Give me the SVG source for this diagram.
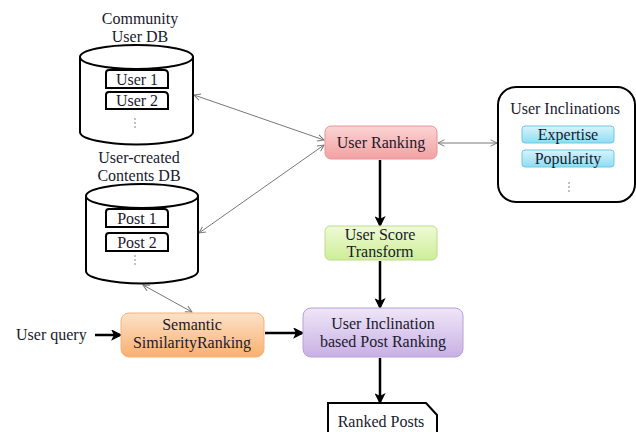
<svg xmlns="http://www.w3.org/2000/svg" width="636" height="432" viewBox="0 0 636 432">
<style>
text{font-family:"Liberation Serif","Times New Roman",serif;fill:#1a1a2e;}
.t{font-size:16px;text-anchor:middle;}
.s{font-size:16px;text-anchor:middle;}
.db{fill:#fff;stroke:#000;stroke-width:2;}
.item{fill:#fff;stroke:#000;stroke-width:2;}
.thin{stroke:#777;stroke-width:1;fill:none;marker-start:url(#ao);marker-end:url(#a);}
.thick{stroke:#000;stroke-width:2.5;fill:none;marker-end:url(#ab);}
.dots{fill:#555;}
</style>
<defs>
<marker id="a" viewBox="0 0 10 10" refX="9" refY="5" markerWidth="8" markerHeight="8" orient="auto" markerUnits="userSpaceOnUse"><path d="M1,1 L9,5 L1,9" fill="none" stroke="#777" stroke-width="1.2"/></marker>
<marker id="ao" viewBox="0 0 10 10" refX="1" refY="5" markerWidth="8" markerHeight="8" orient="auto" markerUnits="userSpaceOnUse"><path d="M9,1 L1,5 L9,9" fill="none" stroke="#777" stroke-width="1.2"/></marker>
<marker id="ab" viewBox="0 0 10 10" refX="8" refY="5" markerWidth="11" markerHeight="11" orient="auto" markerUnits="userSpaceOnUse"><path d="M1,1 L9,5 L1,9 L3,5 Z" fill="#000" stroke="#000" stroke-width="1"/></marker>
<linearGradient id="gRed" x1="0" y1="0" x2="0" y2="1"><stop offset="0" stop-color="#fbd3d3"/><stop offset="1" stop-color="#f3a1a1"/></linearGradient>
<linearGradient id="gGreen" x1="0" y1="0" x2="0" y2="1"><stop offset="0" stop-color="#effad6"/><stop offset="1" stop-color="#cdee96"/></linearGradient>
<linearGradient id="gOrange" x1="0" y1="0" x2="0" y2="1"><stop offset="0" stop-color="#fde2c8"/><stop offset="1" stop-color="#f8b070"/></linearGradient>
<linearGradient id="gPurple" x1="0" y1="0" x2="0" y2="1"><stop offset="0" stop-color="#efe6f8"/><stop offset="1" stop-color="#c8b0e4"/></linearGradient>
<linearGradient id="gBlue" x1="0" y1="0" x2="0" y2="1"><stop offset="0" stop-color="#d8f4fc"/><stop offset="1" stop-color="#8edcf3"/></linearGradient>
</defs>

<g id="connectors">
<line class="thin" x1="194" y1="95" x2="324" y2="140"/>
<line class="thin" x1="199" y1="233" x2="324" y2="145"/>
<line class="thin" x1="438" y1="143" x2="497" y2="143"/>
<line class="thin" x1="143" y1="285" x2="192" y2="312"/>
<line class="thick" x1="380" y1="160" x2="380" y2="225"/>
<line class="thick" x1="380" y1="261" x2="380" y2="307"/>
<line class="thick" x1="380" y1="358" x2="380" y2="402"/>
<line class="thick" x1="95" y1="335" x2="120" y2="335"/>
<line class="thick" x1="265" y1="333" x2="302" y2="333"/>
</g>

<g id="community-user-db">
<text class="t" x="140" y="24">Community</text>
<text class="t" x="140" y="42">User DB</text>
<path class="db" d="M80,57 L80,132 A56.5,12.5 0 0 0 193,132 L193,57"/>
<ellipse class="db" cx="136.5" cy="57" rx="56.5" ry="12"/>
<path class="item" d="M106,88 L106,73 Q106,70 109,70 L164,70 Q168,70 168,74 L168,88 Z"/>
<text class="t" x="137" y="85">User 1</text>
<path class="item" d="M106,109 L106,95 Q106,92 109,92 L164,92 Q168,92 168,96 L168,109 Z"/>
<text class="t" x="137" y="106">User 2</text>
<circle class="dots" cx="135" cy="119" r="0.7"/><circle class="dots" cx="135" cy="123" r="0.7"/><circle class="dots" cx="135" cy="127" r="0.7"/>
</g>

<g id="contents-db">
<text class="t" x="139" y="163">User-created</text>
<text class="t" x="139" y="181">Contents DB</text>
<path class="db" d="M86,196 L86,271 A56,12.5 0 0 0 198,271 L198,196"/>
<ellipse class="db" cx="142" cy="196" rx="56" ry="12"/>
<path class="item" d="M106,227 L106,212 Q106,209 109,209 L164,209 Q168,209 168,213 L168,227 Z"/>
<text class="t" x="137" y="224">Post 1</text>
<path class="item" d="M106,251 L106,236 Q106,233 109,233 L164,233 Q168,233 168,237 L168,251 Z"/>
<text class="t" x="137" y="248">Post 2</text>
<circle class="dots" cx="135" cy="256" r="0.7"/><circle class="dots" cx="135" cy="260" r="0.7"/><circle class="dots" cx="135" cy="264" r="0.7"/>
</g>

<g id="user-ranking">
<rect x="325" y="126" width="112" height="33" rx="6" fill="url(#gRed)" stroke="#e89494" stroke-width="1"/>
<text class="t" x="381" y="148">User Ranking</text>
</g>

<g id="user-inclinations">
<rect x="498" y="87" width="137" height="115" rx="18" fill="#fff" stroke="#000" stroke-width="2"/>
<text class="t" x="565" y="114">User Inclinations</text>
<rect x="522" y="126" width="92" height="17" rx="3" fill="url(#gBlue)" stroke="#6cc8e4" stroke-width="1"/>
<text class="t" x="568" y="140">Expertise</text>
<rect x="522" y="150" width="92" height="17" rx="3" fill="url(#gBlue)" stroke="#6cc8e4" stroke-width="1"/>
<text class="t" x="568" y="164">Popularity</text>
<circle class="dots" cx="569" cy="183" r="0.7"/><circle class="dots" cx="569" cy="187" r="0.7"/><circle class="dots" cx="569" cy="191" r="0.7"/>
</g>

<g id="user-score-transform">
<rect x="325" y="226" width="112" height="34" rx="5" fill="url(#gGreen)" stroke="#bcdc8c" stroke-width="1"/>
<text class="t" x="380" y="240">User Score</text>
<text class="t" x="380" y="257">Transform</text>
</g>

<g id="user-query">
<text x="16" y="340" style="font-size:16px">User query</text>
</g>

<g id="semantic-similarity-ranking">
<rect x="121" y="313" width="143" height="44" rx="8" fill="url(#gOrange)" stroke="#f4b27a" stroke-width="1"/>
<text class="t" x="192" y="330">Semantic</text>
<text class="t" x="192" y="348">SimilarityRanking</text>
</g>

<g id="user-inclination-post-ranking">
<rect x="303" y="308" width="160" height="49" rx="8" fill="url(#gPurple)" stroke="#b8a0d8" stroke-width="1"/>
<text class="t" x="383" y="329">User Inclination</text>
<text class="t" x="383" y="347">based Post Ranking</text>
</g>

<g id="ranked-posts">
<path d="M328,434 L328,403 L426,403 L437,415 L437,434" fill="#fff" stroke="#000" stroke-width="2"/>
<text class="s" x="381" y="427">Ranked Posts</text>
</g>
</svg>
